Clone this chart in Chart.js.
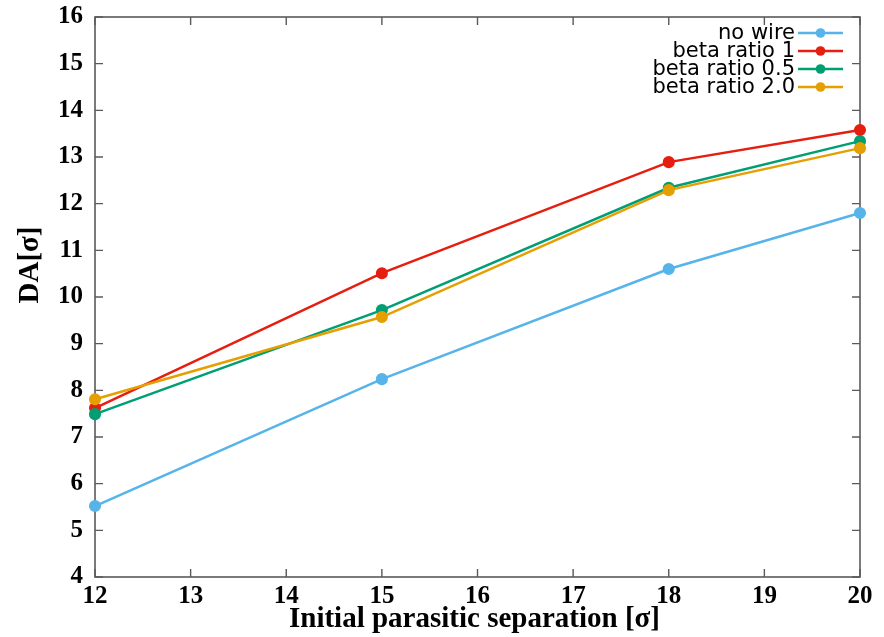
<!DOCTYPE html>
<html>
<head>
<meta charset="utf-8">
<script src="https://cdn.jsdelivr.net/npm/chart.js@4"></script>
<style>
  html, body { margin: 0; padding: 0; background: #fff; }
  #wrap { width: 884px; height: 637px; position: relative; }
</style>
</head>
<body>
<div id="wrap"><canvas id="c" width="884" height="637"></canvas></div>
<script>
// ---- data ----
const separations = [12, 15, 18, 20];
const seriesLabels = ["no wire", "beta ratio 1", "beta ratio 0.5", "beta ratio 2.0"];
const noWire   = [5.52, 8.24, 10.60, 11.80];
const beta1    = [7.62, 10.51, 12.89, 13.58];
const beta05   = [7.49, 9.72, 12.34, 13.34];
const beta20   = [7.81, 9.57, 12.29, 13.19];
const xTitle = "Initial parasitic separation [σ]";
const yTitle = "DA[σ]";
const xMin = 12, xMax = 20, yMin = 4, yMax = 16;

const colors = ["#56b4e9", "#e51e10", "#009e73", "#e69f00"];
const allSeries = [noWire, beta1, beta05, beta20];

const datasets = allSeries.map((vals, i) => ({
  label: seriesLabels[i],
  data: separations.map((x, j) => ({ x: x, y: vals[j] })),
  borderColor: colors[i],
  backgroundColor: colors[i],
  pointBackgroundColor: colors[i],
  pointBorderColor: colors[i],
  pointRadius: 4.8,
  pointHoverRadius: 4.8,
  borderWidth: 2.5,
  tension: 0,
  clip: false,
  order: allSeries.length - 1 - i
}));

const frameColor = "#5a5a5a";

const framePlugin = {
  id: "frame",
  beforeDatasetsDraw(chart) {
    const ctx = chart.ctx;
    const a = chart.chartArea;
    const xs = chart.scales.x, ys = chart.scales.y;
    ctx.save();
    ctx.strokeStyle = frameColor;
    ctx.lineWidth = 1.6;
    ctx.strokeRect(a.left, a.top, a.right - a.left, a.bottom - a.top);
    const tl = 8;
    ctx.lineWidth = 1.4;
    ctx.beginPath();
    xs.ticks.forEach(t => {
      const px = xs.getPixelForValue(t.value);
      ctx.moveTo(px, a.bottom); ctx.lineTo(px, a.bottom - tl);
      ctx.moveTo(px, a.top); ctx.lineTo(px, a.top + tl);
    });
    ys.ticks.forEach(t => {
      const py = ys.getPixelForValue(t.value);
      ctx.moveTo(a.left, py); ctx.lineTo(a.left + tl, py);
      ctx.moveTo(a.right, py); ctx.lineTo(a.right - tl, py);
    });
    ctx.stroke();
    ctx.restore();
  },
  afterDraw(chart) {
    const ctx = chart.ctx;
    const a = chart.chartArea;
    ctx.save();
    // axis titles
    ctx.fillStyle = "#000";
    ctx.font = "bold 29px 'Liberation Serif'";
    ctx.textAlign = "center";
    ctx.textBaseline = "middle";
    ctx.fillText(xTitle, (a.left + a.right) / 2 - 3, 620);
    ctx.save();
    ctx.translate(31, 265);
    ctx.rotate(-Math.PI / 2);
    ctx.fillText(yTitle, 0, 0);
    ctx.restore();
    // legend (gnuplot style: text right, sample to the right)
    ctx.font = "21px 'DejaVu Sans'";
    ctx.textAlign = "right";
    ctx.textBaseline = "middle";
    const textRight = 795, lineL = 798, lineR = 843, rowY0 = 33, rowH = 18;
    chart.data.datasets.forEach((ds, i) => {
      const y = rowY0 + i * rowH;
      ctx.fillStyle = "#000";
      ctx.fillText(ds.label, textRight, y + 1);
      ctx.strokeStyle = ds.borderColor;
      ctx.lineWidth = 2.5;
      ctx.beginPath();
      ctx.moveTo(lineL, y); ctx.lineTo(lineR, y);
      ctx.stroke();
      ctx.fillStyle = ds.borderColor;
      ctx.beginPath();
      ctx.arc((lineL + lineR) / 2, y, 4.8, 0, Math.PI * 2);
      ctx.fill();
    });
    ctx.restore();
  }
};

new Chart(document.getElementById("c"), {
  type: "line",
  data: { datasets: datasets },
  options: {
    responsive: false,
    animation: false,
    devicePixelRatio: 1,
    layout: { padding: { left: 0, right: 24, top: 17, bottom: 0 } },
    plugins: {
      legend: { display: false },
      tooltip: { enabled: false },
      title: { display: false }
    },
    scales: {
      x: {
        type: "linear",
        min: xMin, max: xMax,
        grid: { display: false, drawTicks: false },
        border: { display: false },
        ticks: {
          stepSize: 1,
          padding: 5,
          color: "#000",
          font: { family: "'Liberation Serif'", weight: "bold", size: 25 },
          maxRotation: 0
        },
        afterFit(scale) {
          scale.height = 60;
          scale.paddingLeft = 0; scale.paddingRight = 0;
        }
      },
      y: {
        type: "linear",
        min: yMin, max: yMax,
        grid: { display: false, drawTicks: false },
        border: { display: false },
        ticks: {
          stepSize: 1,
          padding: 12,
          color: "#000",
          font: { family: "'Liberation Serif'", weight: "bold", size: 25 }
        },
        afterFit(scale) {
          scale.width = 95;
          scale.paddingTop = 0; scale.paddingBottom = 0;
        }
      }
    }
  },
  plugins: [framePlugin]
});
</script>
</body>
</html>
